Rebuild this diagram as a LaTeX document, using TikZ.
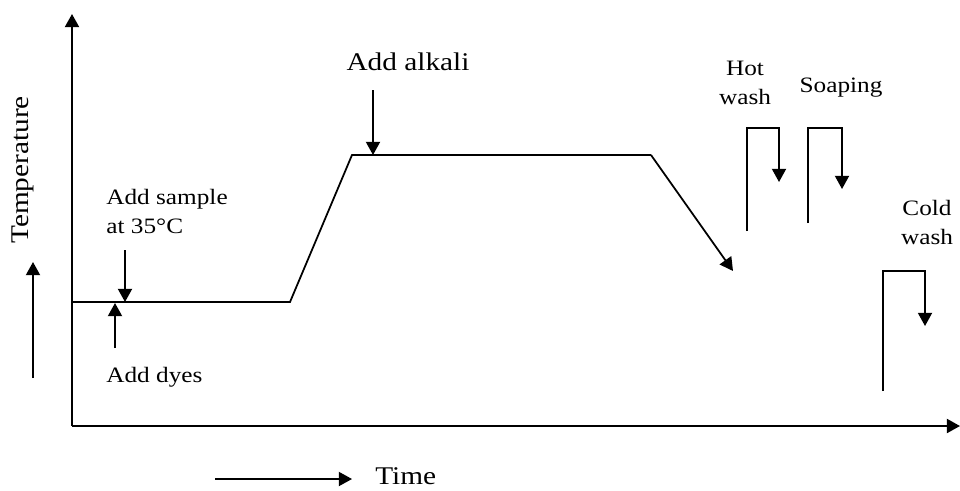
\documentclass[tikz,border=0pt]{standalone}
\usepackage{fontspec}
\setmainfont{Liberation Serif}[FakeStretch=1.15]
\usetikzlibrary{arrows.meta,calc}

\begin{document}
\begin{tikzpicture}[
  >={Triangle[length=7.5pt,width=8pt]},
  axis/.style={line width=1.2pt,->},
  curve/.style={line width=1pt},
  lbl/.style={font=\fontsize{12.5}{16.5}\selectfont,inner sep=0pt,align=center},
  biglbl/.style={font=\fontsize{14.5}{17}\selectfont,inner sep=0pt}]
\useasboundingbox (0,0) rectangle (19.2,9.8);

% axes
\coordinate (O) at (1.44,1.28);
\coordinate (Ytop) at (1.44,9.52);
\coordinate (Xend) at (19.2,1.28);
\draw[axis] (O) -- (Ytop);
\draw[axis] (O) -- (Xend);

% temperature profile
\coordinate (S) at (1.44,3.76);
\coordinate (A) at (5.8,3.76);
\coordinate (B) at (7.04,6.7);
\coordinate (C) at (13.02,6.7);
\coordinate (D) at (14.66,4.38);
\draw[curve] (S) -- (A) -- (B) -- (C);
\draw[curve,->] (C) -- (D);

% additions
\node[biglbl] (alkali) at (8.16,8.56) {Add alkali};
\coordinate (alkTop) at (7.46,8.0);
\coordinate (alkTip) at (7.46,6.7);
\draw[curve,->] (alkTop) -- (alkTip);

\node[lbl,anchor=west,align=left] (sample) at (2.12,5.57) {Add sample\\at 35°C};
\coordinate (smpTop) at (2.5,4.8);
\coordinate (smpTip) at (2.5,3.76);
\draw[curve,->] (smpTop) -- (smpTip);

\node[lbl,anchor=west] (dyes) at (2.12,2.26) {Add dyes};
\coordinate (dyeBot) at (2.3,2.84);
\coordinate (dyeTip) at (2.3,3.74);
\draw[curve,->] (dyeBot) -- (dyeTip);

% washing steps
\node[lbl] (hot) at (14.9,8.14) {Hot\\wash};
\coordinate (h1) at (14.94,5.18);
\coordinate (h2) at (14.94,7.24);
\coordinate (h3) at (15.58,7.24);
\coordinate (h4) at (15.58,6.16);
\draw[curve,->] (h1) -- (h2) -- (h3) -- (h4);

\node[lbl] (soap) at (16.82,8.04) {Soaping};
\coordinate (s1) at (16.16,5.34);
\coordinate (s2) at (16.16,7.24);
\coordinate (s3) at (16.84,7.24);
\coordinate (s4) at (16.84,6.02);
\draw[curve,->] (s1) -- (s2) -- (s3) -- (s4);

\node[lbl] (cold) at (18.54,5.35) {Cold\\wash};
\coordinate (c1) at (17.66,1.98);
\coordinate (c2) at (17.66,4.38);
\coordinate (c3) at (18.5,4.38);
\coordinate (c4) at (18.5,3.28);
\draw[curve,->] (c1) -- (c2) -- (c3) -- (c4);

% axis labels
\node[biglbl,rotate=90] (temp) at (0.46,6.4) {Temperature};
\coordinate (tBot) at (0.66,2.24);
\coordinate (tTip) at (0.66,4.56);
\draw[curve,->] (tBot) -- (tTip);

\node[biglbl,anchor=base west] (time) at (7.5,0.12) {Time};
\coordinate (tmL) at (4.3,0.22);
\coordinate (tmR) at (7.04,0.22);
\draw[curve,->] (tmL) -- (tmR);

\end{tikzpicture}
\end{document}
